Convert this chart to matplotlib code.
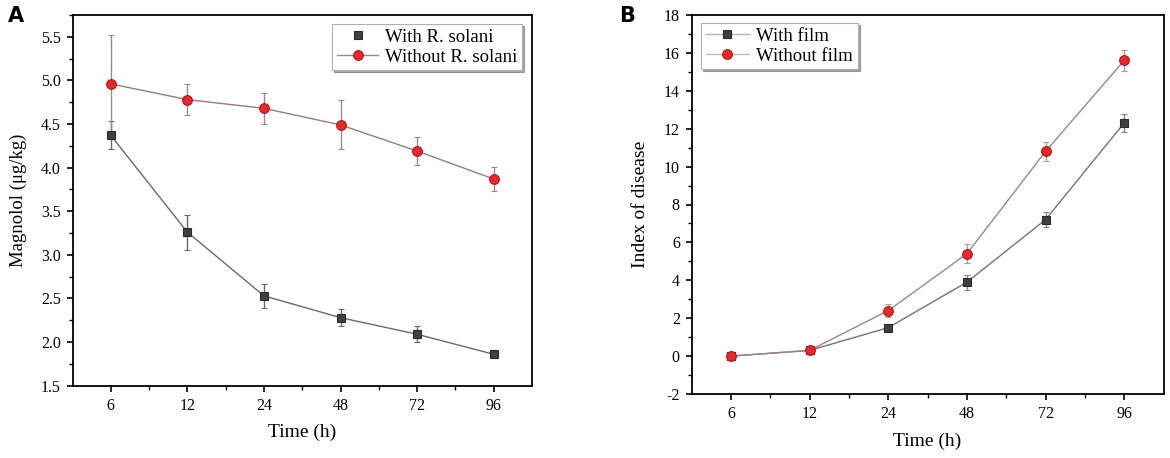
import matplotlib
matplotlib.use("Agg")
import matplotlib.pyplot as plt
from matplotlib.ticker import MultipleLocator
import numpy as np

# ---- data ----
time_labels = ["6", "12", "24", "48", "72", "96"]

magnolol_with = [4.37, 3.26, 2.53, 2.28, 2.09, 1.86]
magnolol_with_err = [0.16, 0.20, 0.14, 0.10, 0.09, 0.03]
magnolol_without = [4.96, 4.78, 4.68, 4.49, 4.19, 3.87]
magnolol_without_err = [0.56, 0.18, 0.18, 0.28, 0.16, 0.14]

disease_with = [0.0, 0.3, 1.5, 3.9, 7.2, 12.3]
disease_with_err = [0.05, 0.08, 0.15, 0.4, 0.4, 0.5]
disease_without = [0.0, 0.3, 2.4, 5.4, 10.8, 15.6]
disease_without_err = [0.05, 0.08, 0.35, 0.5, 0.5, 0.55]

plt.rcParams['font.family'] = ['Liberation Serif', 'DejaVu Serif']
plt.rcParams['axes.unicode_minus'] = False

fig = plt.figure(figsize=(11.7, 4.58), dpi=100)
W, H = 1170, 458
axA = fig.add_axes([72.5 / W, 1 - 385.7 / H, (532 - 72.5) / W, (385.7 - 15) / H])
axB = fig.add_axes([691.6 / W, 1 - 394 / H, (1163.5 - 691.6) / W, (394 - 15) / H])

x = np.arange(len(time_labels))

sq_kw = dict(marker='s', markersize=6.0, markerfacecolor='#404040', markeredgecolor='#2a2a2a',
             markeredgewidth=0.8)
ci_kw = dict(marker='o', markersize=7.0, markerfacecolor='#e8282a', markeredgecolor='#b01818',
             markeredgewidth=0.8)


def style(ax, ylim, major, minor, ylabel_x):
    ax.set_xlim(-0.5, 5.5)
    ax.set_ylim(*ylim)
    ax.set_xticks(x)
    ax.set_xticklabels(time_labels)
    ax.set_xticks(x[:-1] + 0.5, minor=True)
    ax.yaxis.set_major_locator(MultipleLocator(major))
    ax.yaxis.set_minor_locator(MultipleLocator(minor))
    ax.tick_params(axis='both', which='major', direction='out', length=4.5, width=1.2,
                   labelsize=11.5, pad=4)
    ax.tick_params(axis='both', which='minor', direction='out', length=2.6, width=1.0)
    for s in ax.spines.values():
        s.set_linewidth(1.3)
    ax.set_xlabel("Time (h)", fontsize=14)
    ax.xaxis.set_label_coords(0.5, -0.103)
    ax.yaxis.set_label_coords(ylabel_x, 0.5)


# Panel A
axA.errorbar(x, magnolol_with, yerr=magnolol_with_err, color='#6a6a6a', lw=1.0,
             ecolor='#6a6a6a', elinewidth=1.0, capsize=2.5, capthick=1.0, linestyle='-',
             label='With R. solani', zorder=3, **sq_kw)
axA.errorbar(x, magnolol_without, yerr=magnolol_without_err, color='#9a7a7a', lw=1.0,
             ecolor='#9a8a8a', elinewidth=1.0, capsize=2.5, capthick=1.0, linestyle='-',
             label='Without R. solani', zorder=3, **ci_kw)
style(axA, (1.5, 5.75), 0.5, 0.25, -0.099)
axA.set_yticks(np.arange(1.5, 5.51, 0.5))
axA.set_yticklabels([f"{v:.1f}" for v in np.arange(1.5, 5.51, 0.5)])
axA.set_ylabel("Magnolol (μg/kg)", fontsize=13.5)
hA = [plt.Line2D([], [], linestyle='none', **sq_kw),
      plt.Line2D([], [], color='#a08585', lw=1.0, **ci_kw)]
legA = axA.legend(hA, ['With R. solani', 'Without R. solani'], loc='upper right',
                  bbox_to_anchor=(0.978, 0.976), borderaxespad=0, fontsize=13.5,
                  frameon=True, fancybox=False, edgecolor='#b0b0b0', borderpad=0.25,
                  handlelength=2.2, labelspacing=0.15, handletextpad=0.35,
                  shadow={'ox': 1.5, 'oy': -1.5, 'color': '#555555'})
legA.get_frame().set_linewidth(0.8)

# Panel B
axB.errorbar(x, disease_with, yerr=disease_with_err, color='#7a7070', lw=1.0,
             ecolor='#8a8080', elinewidth=1.0, capsize=2.5, capthick=1.0,
             label='With film', zorder=3, **sq_kw)
axB.errorbar(x, disease_without, yerr=disease_without_err, color='#a08585', lw=1.0,
             ecolor='#b09a9a', elinewidth=1.0, capsize=2.5, capthick=1.0,
             label='Without film', zorder=3, **ci_kw)
style(axB, (-2, 18), 2, 1, -0.09)
axB.set_ylabel("Index of disease", fontsize=14)
hB = [plt.Line2D([], [], color='#c0b0b0', lw=1.0, **sq_kw),
      plt.Line2D([], [], color='#d0b0b0', lw=1.0, **ci_kw)]
legB = axB.legend(hB, ['With film', 'Without film'], loc='upper left',
                  bbox_to_anchor=(0.02, 0.979), borderaxespad=0, fontsize=13.5,
                  frameon=True, fancybox=False, edgecolor='#b0b0b0', borderpad=0.25,
                  handlelength=2.3, labelspacing=0.15, handletextpad=0.4,
                  shadow={'ox': 1.5, 'oy': -1.5, 'color': '#555555'})
legB.get_frame().set_linewidth(0.8)

fig.text(8 / W, 1 - 16 / H, "A", fontsize=15, fontweight='bold', family='DejaVu Sans',
         va='center', ha='left')
fig.text(619 / W, 1 - 16 / H, "B", fontsize=15, fontweight='bold', family='DejaVu Sans',
         va='center', ha='left')

fig.savefig("out.png", dpi=100)
